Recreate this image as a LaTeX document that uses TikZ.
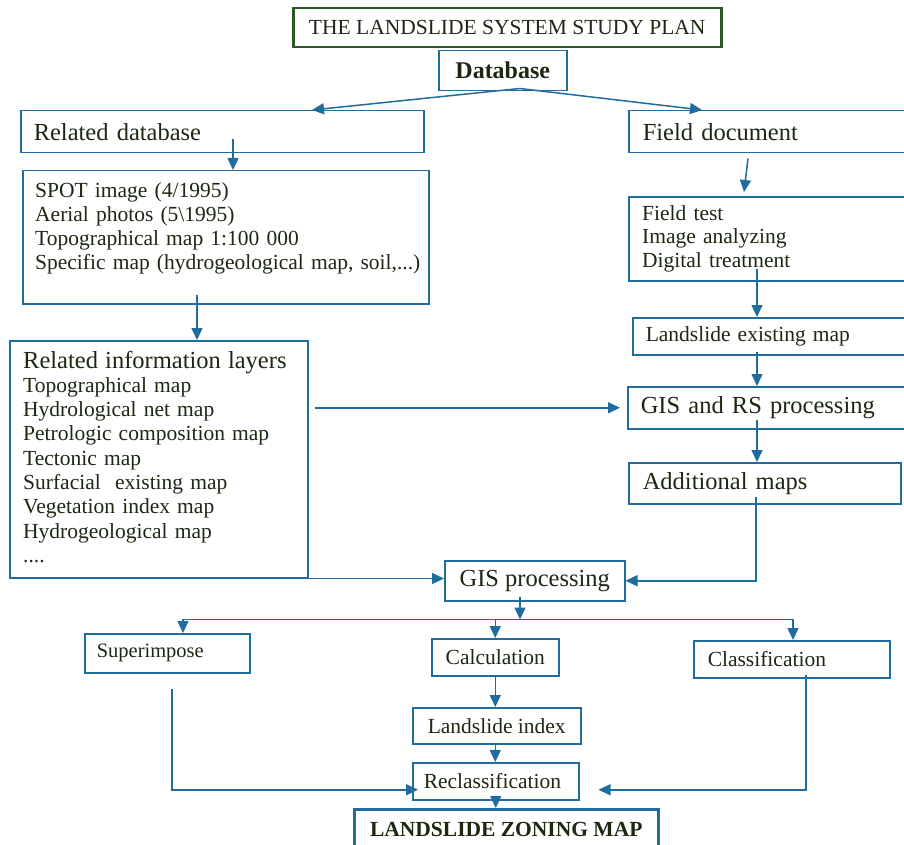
\documentclass[tikz,border=0pt]{standalone}
\usepackage{fontspec}
\setmainfont{Liberation Serif}
\usetikzlibrary{arrows.meta,calc}
\definecolor{bblue}{RGB}{31,108,158}
\definecolor{tgreen}{RGB}{45,85,40}
\definecolor{ink}{RGB}{28,40,18}
\begin{document}
\begin{tikzpicture}[x=1pt,y=-1pt,
  box/.style={draw=bblue, line width=1.5pt, rectangle, inner ysep=0pt, anchor=north west, text=ink},
  small/.style={font=\fontsize{21.5}{24.3}\selectfont},
  big/.style={font=\fontsize{24.5}{26}\selectfont},
  txt/.style={text=ink, anchor=base west, inner sep=0pt, align=left},
  arr/.style={draw=bblue, line width=1.5pt, -{Triangle[length=12pt,width=11pt]}}]
\useasboundingbox (0,0) rectangle (904,845);
\fill[white] (0,0) rectangle (904,845);

% boxes
\node[box, draw=tgreen, line width=2.5pt, small, minimum width=428pt, minimum height=39pt] (title) at (292,7) {THE LANDSLIDE SYSTEM STUDY PLAN};
\node[box, font=\bfseries\fontsize{24}{26}\selectfont, minimum width=128pt, minimum height=40pt] (db) at (438,50) {Database};
\node[box, big, minimum width=403pt, minimum height=42pt, inner xsep=13pt, text width=377pt, align=left] (reldb) at (20,110) {Related database};
\node[box, minimum width=406pt, minimum height=133pt] (spot) at (22,170) {};
\node[txt, small, text width=390pt] (spottext) at (35,197) {SPOT image (4/1995)\\Aerial photos (5\textbackslash 1995)\\Topographical map 1:100 000\\Specific map (hydrogeological map, soil,...)};
\node[box, minimum width=298pt, minimum height=237pt] (layers) at (9,340) {};
\node[txt, small, text width=280pt] (layerstext) at (23,368) {{\fontsize{24.5}{25}\selectfont Related information layers\par}Topographical map\\Hydrological net map\\Petrologic composition map\\Tectonic map\\Surfacial\ \ existing map\\Vegetation index map\\Hydrogeological map\\....};

\node[box, big, minimum width=282pt, minimum height=42pt, inner xsep=14pt, text width=254pt, align=left] (fielddoc) at (628,110) {Field document};
\node[box, minimum width=282pt, minimum height=84pt] (fieldtest) at (628,196) {};
\node[txt, font=\fontsize{21.5}{23.5}\selectfont, text width=250pt] (fieldtesttext) at (642,220) {Field test\\Image analyzing\\Digital treatment};
\node[box, small, minimum width=278pt, minimum height=37pt, inner xsep=13pt, text width=252pt, align=left] (lsexist) at (632,317) {Landslide existing map};
\node[box, big, minimum width=283pt, minimum height=42pt, inner xsep=13pt, text width=257pt, align=left] (gisrs) at (627,386) {GIS and RS processing};
\node[box, big, minimum width=272pt, minimum height=41pt, inner xsep=14pt, text width=244pt, align=left] (addmaps) at (628,462) {Additional maps};
\node[box, big, minimum width=180pt, minimum height=40pt] (gisproc) at (444,560) {GIS processing};

\node[box, font=\fontsize{20.5}{23}\selectfont, minimum width=165pt, minimum height=39pt, inner xsep=12pt, text width=141pt, align=left] (sup) at (84,633) {Superimpose};
\node[box, small, minimum width=127pt, minimum height=37pt] (calc) at (431,638) {Calculation};
\node[box, small, minimum width=196pt, minimum height=37pt, inner xsep=14pt, text width=168pt, align=left] (classif) at (693,640) {Classification};
\node[box, small, minimum width=168pt, minimum height=36pt] (lsindex) at (412,707) {Landslide index};
\node[box, small, minimum width=166pt, minimum height=37pt, inner xsep=11pt, text width=144pt, align=left] (reclass) at (412,762) {Reclassification};
\node[box, line width=2.5pt, font=\bfseries\fontsize{21.5}{24}\selectfont, minimum width=304pt, minimum height=40pt] (zoning) at (353,808) {LANDSLIDE ZONING MAP};

% connectors
\coordinate (apex) at ([xshift=17pt,yshift=3pt]db.south);
\draw[arr] (apex) -- ([xshift=292pt]reldb.north west);
\draw[arr] (apex) -- ([xshift=74pt]fielddoc.north west);
\draw[arr] ([xshift=213pt,yshift=14pt]reldb.south west) -- ([xshift=211pt]spot.north west);
\draw[arr] ([xshift=175pt,yshift=10pt]spot.south west) -- ([xshift=188pt]layers.north west);
\draw[arr, shorten <=6pt, shorten >=7pt] (layers.east |- gisrs.west) -- (gisrs.west);
\draw[arr] (layers.south east) -- (layers.south east -| gisproc.west);

\draw[arr] ([xshift=120pt,yshift=-5pt]fielddoc.south west) -- ([xshift=116pt,yshift=4pt]fieldtest.north west);
\draw[arr] ([xshift=129pt,yshift=13pt]fieldtest.south west) -- ([xshift=125pt]lsexist.north west);
\draw[arr] ([xshift=125pt,yshift=4pt]lsexist.south west) -- ([xshift=130pt]gisrs.north west);
\draw[arr] ([xshift=130pt,yshift=10pt]gisrs.south west) -- ([xshift=129pt]addmaps.north west);
\draw[arr] ([xshift=128pt,yshift=8pt]addmaps.south west) |- (gisproc.east);

\coordinate (bus) at ([xshift=76pt,yshift=-18pt]gisproc.south west);
\draw[arr] ([xshift=76pt,yshift=5pt]gisproc.south west) -- (bus);
\draw[arr] (bus) -| ([xshift=99pt]sup.north west);
\draw[arr] (bus) -| ([xshift=100pt]classif.north west);
\draw[arr] (bus -| calc.north) -- (calc.north);
\draw[arr] (calc.south) -- (calc.south |- lsindex.north);
\draw[arr] (lsindex.south -| calc.south) -- (calc.south |- reclass.north);
\draw[arr] (reclass.south) -- (reclass.south |- zoning.north);
\draw[arr] ([xshift=88pt,yshift=-15pt]sup.south west) |- ([xshift=6pt,yshift=-8.5pt]reclass.west);
\draw[arr] ([xshift=113pt,yshift=4pt]classif.south west) |- ([xshift=19pt,yshift=-8.5pt]reclass.east);
\end{tikzpicture}
\end{document}
